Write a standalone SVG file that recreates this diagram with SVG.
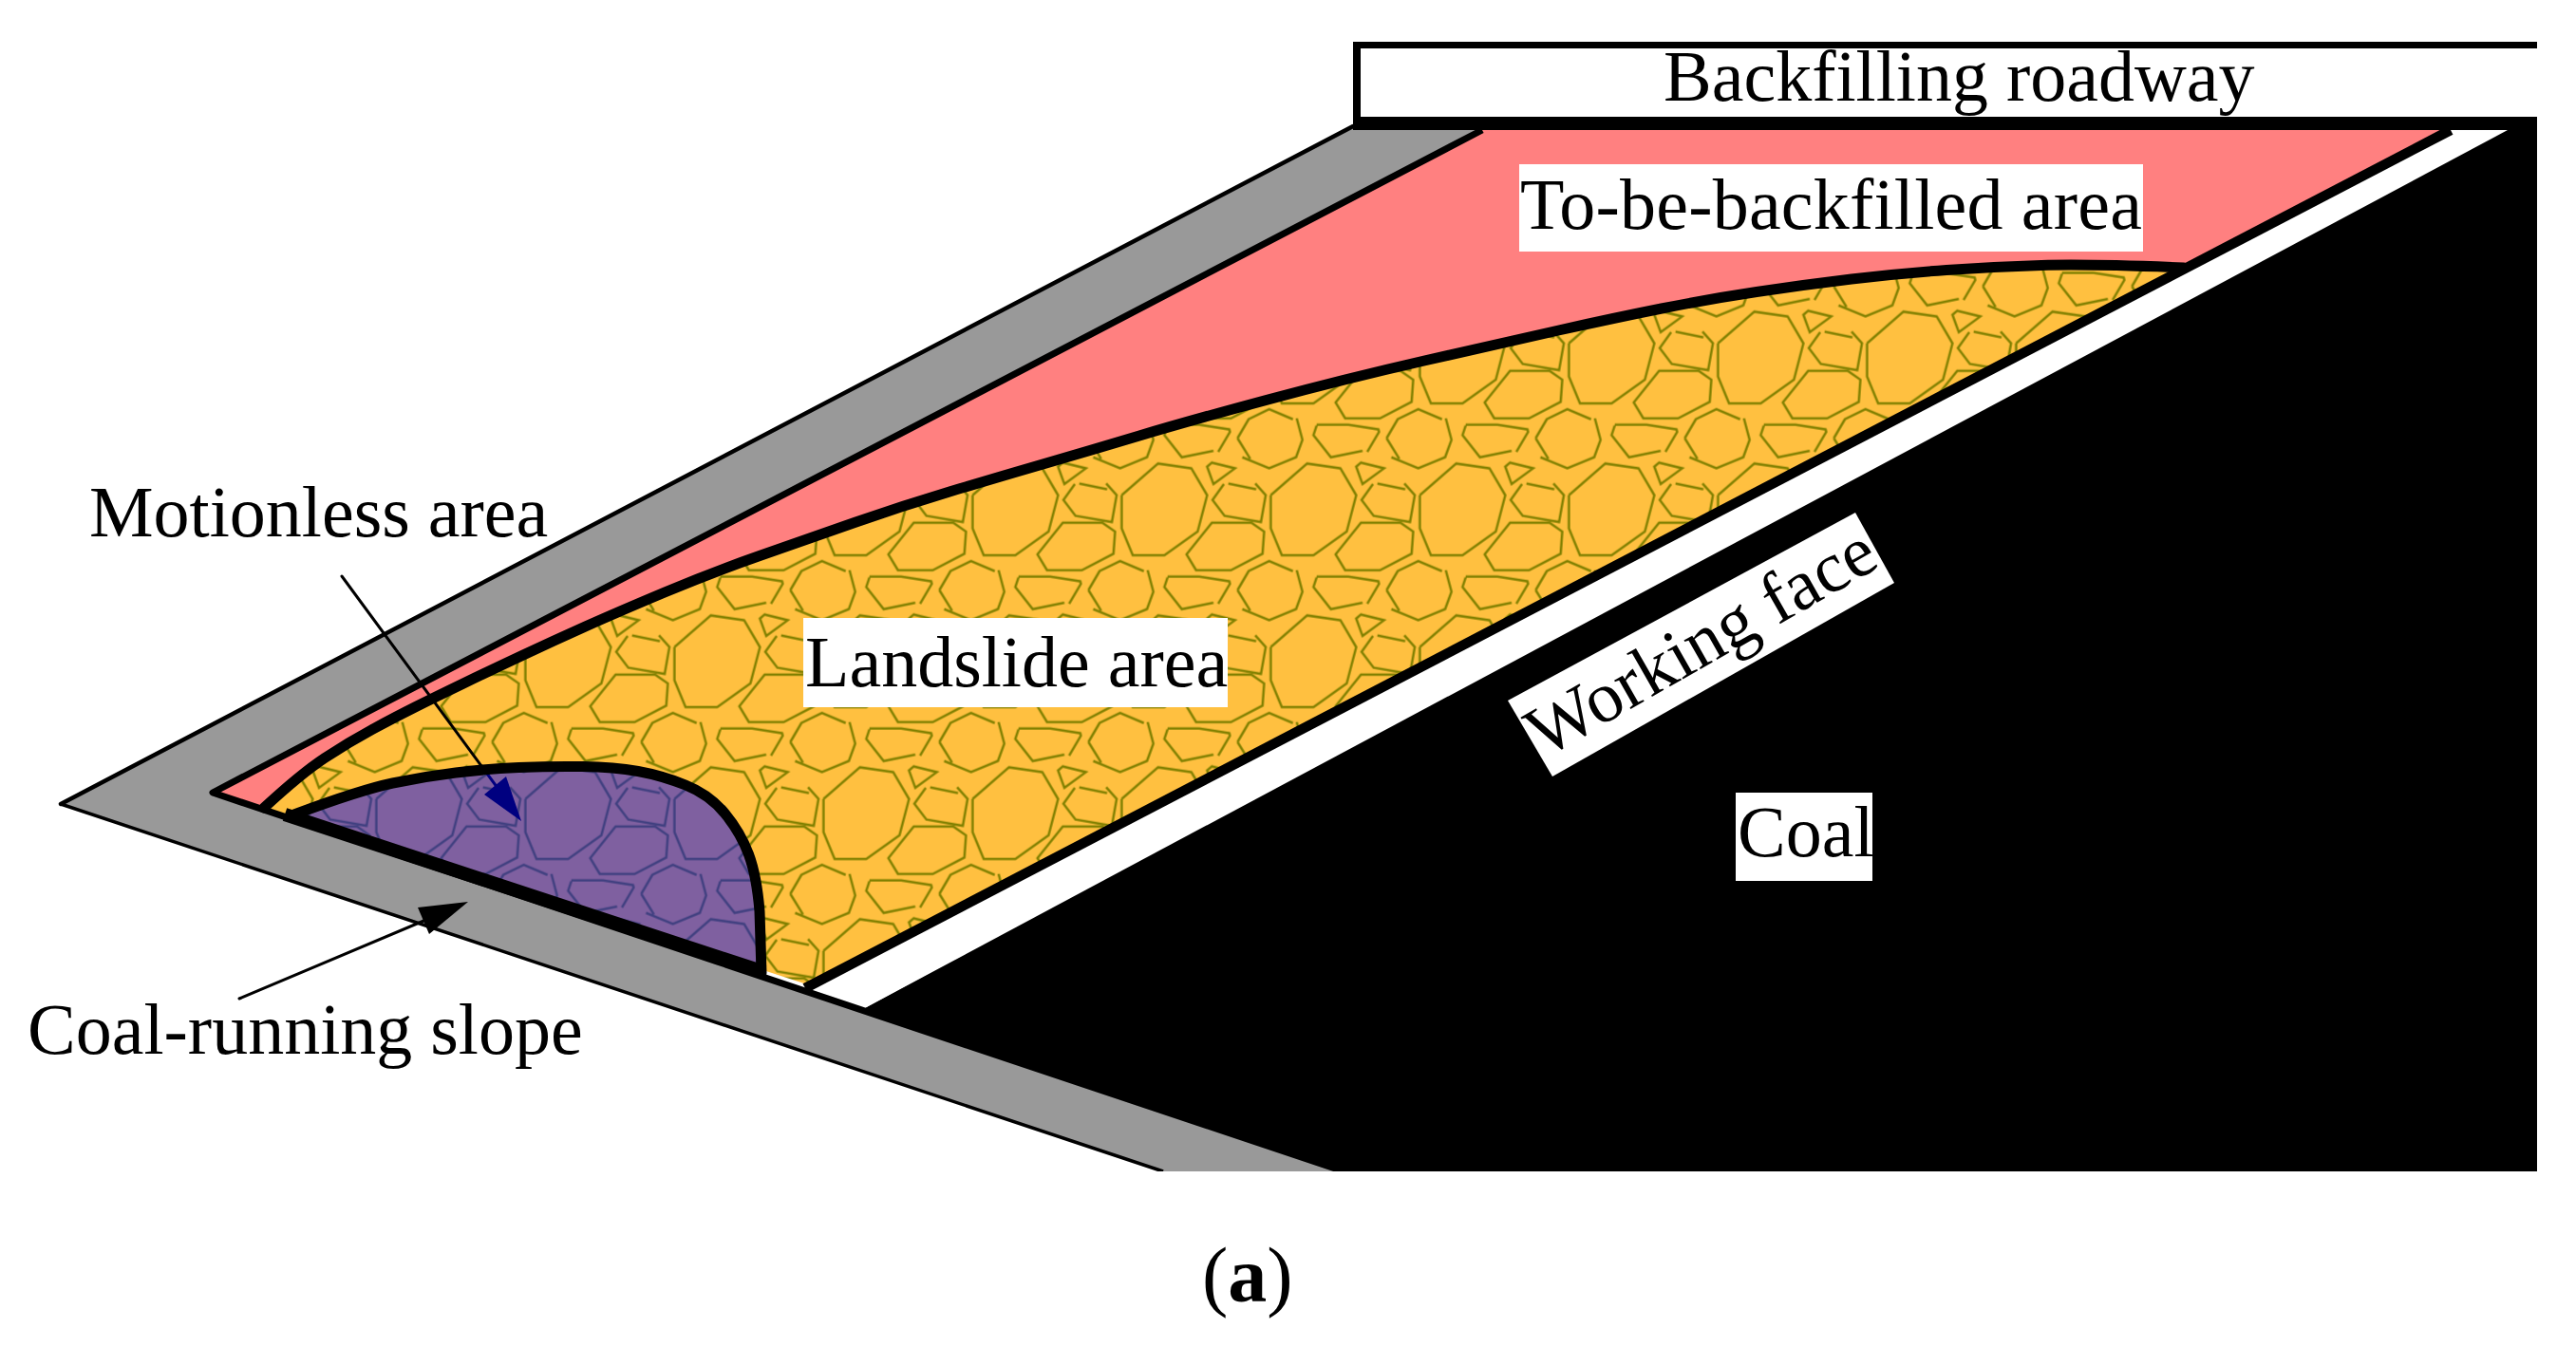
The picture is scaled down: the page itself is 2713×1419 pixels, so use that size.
<svg xmlns="http://www.w3.org/2000/svg" xmlns:xlink="http://www.w3.org/1999/xlink" width="2713" height="1419" viewBox="0 0 2713 1419">
<style>
.t{font-family:"Liberation Serif","Times New Roman",serif;font-size:76px;fill:#000}
.s{fill:none;stroke:#808000;stroke-width:7.5}
.l{fill:none;stroke:#000;stroke-linecap:round;stroke-linejoin:round}
.w{fill:#fff}
</style>
<defs>
<g id="tile">
<path class="s" d="M535 125L650 25L755 40L805 125L775 240L670 315L570 315L535 230L535 125"/>
<path class="s" d="M858 90L822 140L860 190L975 210L990 125L957 88M872 88L960 106"/>
<path class="s" d="M805 35L825 90L893 40L820 22Z"/>
<path class="s" d="M740 312L820 212L945 212L985 240L980 310L880 362L770 362Z"/>
<path class="s" d="M430 425L465 365L530 333L605 365M617 362L635 430L615 485L530 520L445 485M470 490L430 425"/>
<path class="s" d="M680 385L670 415L725 485L825 465M840 468L877 405L875 397L780 382L680 382"/>
</g>
<pattern id="stones" patternUnits="userSpaceOnUse" x="1336.67" y="486.67" width="157" height="160" viewBox="530 20 471 480">
<rect x="530" y="20" width="471" height="480" fill="#ffc040"/>
<use xlink:href="#tile" href="#tile"/>
<use xlink:href="#tile" href="#tile" x="-471"/>
<use xlink:href="#tile" href="#tile" x="471"/>
<use xlink:href="#tile" href="#tile" y="-480"/>
<use xlink:href="#tile" href="#tile" y="480"/>
<use xlink:href="#tile" href="#tile" x="-471" y="-480"/>
<use xlink:href="#tile" href="#tile" x="471" y="480"/>
<use xlink:href="#tile" href="#tile" x="-471" y="480"/>
<use xlink:href="#tile" href="#tile" x="471" y="-480"/>
</pattern>
</defs>
<rect width="2713" height="1419" fill="#fff"/>
<polygon id="slope" points="64,847 1425,133 1561,137 224,835 1415,1234 1225,1234" fill="#999"/>
<polygon id="coal" points="2640,123 2672,123 2672,1234 1415,1234 907,1064" fill="#000"/>
<polygon id="face" class="w" points="2590,137 2641,137 907,1064 849,1044"/>
<polygon id="pink" points="1561,137 2579,137 853,1035 224,835" fill="#ff8080"/>
<path id="landslide" fill="url(#stones)" d="M278 851Q317 815 342 798.5Q367 782 392 768.5Q417 755 437 745Q457 735 487 720.5Q517 706 550 690.5Q583 675 616.5 660Q650 645 700 624Q750 603 800 585.5Q850 568 900 550.5Q950 533 1000 518Q1050 503 1100 488.5Q1150 474 1200 459Q1250 444 1333.5 421.5Q1417 399 1500 380Q1583 361 1641.5 348Q1700 335 1750 325Q1800 315 1850 307.5Q1900 300 1950 294Q2000 288 2050 284.5Q2100 281 2150 279.5Q2200 278 2300 282L2313 277L853 1038Z"/>
<g id="outlines">
<path class="l" stroke-width="4.5" d="M64 847L1425 133"/>
<path class="l" stroke-width="3.5" style="stroke-linecap:butt" d="M64 847L1225 1234"/>
<path class="l" stroke-width="7" style="stroke-linecap:butt" d="M1561 137L224 835L1415 1234"/>
<path class="l" stroke-width="10.5" style="stroke-linecap:butt" d="M2581 137L848 1041"/>
<path class="l" stroke-width="11" d="M278 851Q317 815 342 798.5Q367 782 392 768.5Q417 755 437 745Q457 735 487 720.5Q517 706 550 690.5Q583 675 616.5 660Q650 645 700 624Q750 603 800 585.5Q850 568 900 550.5Q950 533 1000 518Q1050 503 1100 488.5Q1150 474 1200 459Q1250 444 1333.5 421.5Q1417 399 1500 380Q1583 361 1641.5 348Q1700 335 1750 325Q1800 315 1850 307.5Q1900 300 1950 294Q2000 288 2050 284.5Q2100 281 2150 279.5Q2200 278 2300 282"/>
</g>
<g id="arrow-motionless">
<path class="l" stroke-width="3" d="M360 607L535 845"/>
<polygon points="549,865 533,818 510,837" fill="#000"/>
</g>
<path id="motionless" fill="#0000ff" fill-opacity="0.5" d="M310 858Q380 832 413.5 825Q447 818 480 814Q513 810 546.5 808.5Q580 807 613.5 807.5Q647 808 672 812.5Q697 817 722 827Q747 837 763.5 857Q780 877 788.5 900Q797 923 800 960L802 1025Z"/>
<g id="motionless-edge">
<path class="l" stroke-width="11" d="M310 858Q380 832 413.5 825Q447 818 480 814Q513 810 546.5 808.5Q580 807 613.5 807.5Q647 808 672 812.5Q697 817 722 827Q747 837 763.5 857Q780 877 788.5 900Q797 923 800 960L802 1025"/>
<path class="l" stroke-width="14" style="stroke-linecap:butt" d="M300 858L805 1024"/>
</g>
<g id="arrow-slope">
<path class="l" stroke-width="3" d="M252 1052L470 960"/>
<polygon points="493,950 440,956 452,984" fill="#000"/>
</g>
<rect x="1200" y="1234" width="240" height="6" fill="#fff"/>
<g id="roadway">
<rect x="1425" y="44" width="1247" height="93" fill="#000"/>
<rect class="w" x="1433" y="51" width="1239" height="72"/>
<text class="t" x="1752" y="106">Backfilling roadway</text>
</g>
<g id="to-be-backfilled">
<rect class="w" x="1600" y="173" width="657" height="92"/>
<text class="t" x="1601" y="241" textLength="655">To-be-backfilled area</text>
</g>
<g id="landslide-label">
<rect class="w" x="846" y="651" width="447" height="94"/>
<text class="t" x="848" y="723">Landslide area</text>
</g>
<g id="working-face">
<polygon class="w" points="1588,738 1954,540 1995,614 1635,818"/>
<text class="t" transform="translate(1626,799) rotate(-29.7)">Working face</text>
</g>
<g id="coal-label">
<rect class="w" x="1828" y="835" width="144" height="93"/>
<text class="t" x="1830" y="902">Coal</text>
</g>
<text class="t" x="94" y="565">Motionless area</text>
<text class="t" x="29" y="1110">Coal-running slope</text>
<text class="t" style="font-size:82px" x="1266" y="1371">(<tspan font-weight="bold">a</tspan>)</text>
</svg>
